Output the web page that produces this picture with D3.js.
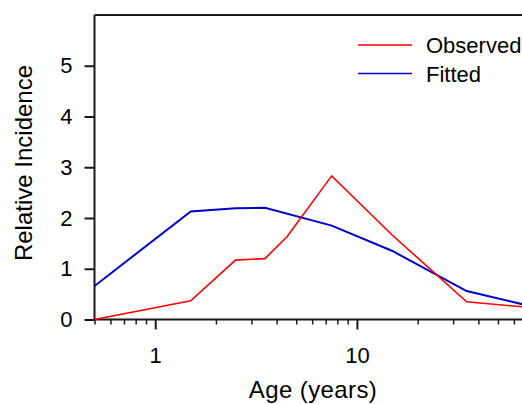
<!DOCTYPE html>
<html>
<head>
<meta charset="utf-8">
<script src="https://cdn.jsdelivr.net/npm/d3@7"></script>
<style>
  html, body { margin: 0; padding: 0; background: #fff; }
  svg { display: block; font-family: "Liberation Sans", Arial, sans-serif; }
</style>
</head>
<body>
<svg id="chart" width="522" height="404"></svg>
<script>
// Age groups (years) and relative incidence
const ages = [0.5, 1.5, 2.5, 3.5, 4.5, 7.5, 15, 35, 75];
const observed = [0.0, 0.37, 1.17, 1.2, 1.63, 2.83, 1.66, 0.35, 0.23];
const fittedAges = [0.5, 1.5, 2.5, 3.5, 7.5, 15, 35, 75];
const fitted = [0.66, 2.13, 2.19, 2.2, 1.85, 1.35, 0.56, 0.25];
const yTicks = [0, 1, 2, 3, 4, 5];
const xMajorTicks = [1, 10];
const xMinorTicks = [0.5, 0.6, 0.7, 0.8, 0.9, 2, 3, 4, 5, 6, 7, 8, 9, 20, 30, 40, 50, 60, 70];
const seriesNames = ["Observed", "Fitted"];
const seriesColors = ["#ff0000", "#0000cc"];

const svg = d3.select("#chart");
const plotLeft = 94.5, plotTop = 15, plotBottom = 319.5;
const decade = 201.7;

const x = d3.scaleLog().domain([0.5, 100])
  .range([plotLeft, plotLeft + decade * Math.log10(100 / 0.5)]);
const y = d3.scaleLinear().domain([0, 6]).range([plotBottom, plotTop]);

// clip the plotting region to the visible page
svg.append("clipPath").attr("id", "plotClip")
  .append("rect").attr("x", plotLeft).attr("y", 0).attr("width", 522 - plotLeft).attr("height", plotBottom + 1);

// frame top edge
svg.append("line")
  .attr("x1", plotLeft).attr("x2", 522).attr("y1", plotTop).attr("y2", plotTop)
  .attr("stroke", "#1a1a1a").attr("stroke-width", 2);

// y axis
const yAxis = svg.append("g").attr("transform", `translate(${plotLeft},0)`)
  .call(d3.axisLeft(y).tickValues(yTicks).tickSize(10).tickPadding(12).tickFormat(d3.format("d")));
yAxis.select(".domain").attr("d", `M0,${plotTop}V${plotBottom}`).attr("stroke", "#1a1a1a").attr("stroke-width", 2);
yAxis.selectAll(".tick line").attr("stroke", "#1a1a1a").attr("stroke-width", 2);
yAxis.selectAll(".tick text").attr("font-size", 22).attr("fill", "#000")
  .attr("font-family", "Liberation Sans, Arial, sans-serif");

// x axis: major ticks with labels
const xAxis = svg.append("g").attr("transform", `translate(0,${plotBottom})`)
  .call(d3.axisBottom(x).tickValues(xMajorTicks).tickSize(10).tickPadding(18).tickFormat(d3.format("d")));
xAxis.select(".domain").attr("d", `M${plotLeft},0H522`).attr("stroke", "#1a1a1a").attr("stroke-width", 2);
xAxis.selectAll(".tick line").attr("stroke", "#1a1a1a").attr("stroke-width", 2);
xAxis.selectAll(".tick text").attr("font-size", 22).attr("fill", "#000")
  .attr("font-family", "Liberation Sans, Arial, sans-serif");

// x axis: minor ticks
svg.append("g").attr("transform", `translate(0,${plotBottom})`)
  .call(d3.axisBottom(x).tickValues(xMinorTicks).tickSize(5).tickFormat(""))
  .call(g => g.select(".domain").remove())
  .selectAll(".tick line").attr("stroke", "#1a1a1a").attr("stroke-width", 1.5);

// series lines
const plot = svg.append("g").attr("clip-path", "url(#plotClip)");
const line = d3.line().x(d => x(d[0])).y(d => y(d[1]));
plot.append("path")
  .datum(fittedAges.map((a, i) => [a, fitted[i]]))
  .attr("d", line).attr("fill", "none")
  .attr("stroke", seriesColors[1]).attr("stroke-width", 2);
plot.append("path")
  .datum(ages.map((a, i) => [a, observed[i]]))
  .attr("d", line).attr("fill", "none")
  .attr("stroke", seriesColors[0]).attr("stroke-width", 1.6);

// legend
const legend = svg.append("g");
seriesNames.forEach((name, i) => {
  const ly = 45 + i * 28.5;
  legend.append("line")
    .attr("x1", 358).attr("x2", 412).attr("y1", ly).attr("y2", ly)
    .attr("stroke", seriesColors[i]).attr("stroke-width", 1.6);
  legend.append("text")
    .attr("x", 426).attr("y", ly + 8)
    .attr("font-size", 22).attr("fill", "#000")
    .text(name);
});

// axis titles
svg.append("text")
  .attr("x", 313).attr("y", 398)
  .attr("text-anchor", "middle").attr("font-size", 24).attr("letter-spacing", 0.4).attr("fill", "#000")
  .text("Age (years)");
svg.append("text")
  .attr("transform", "translate(31.5,163) rotate(-90)")
  .attr("text-anchor", "middle").attr("font-size", 24).attr("fill", "#000")
  .text("Relative Incidence");
</script>
</body>
</html>
